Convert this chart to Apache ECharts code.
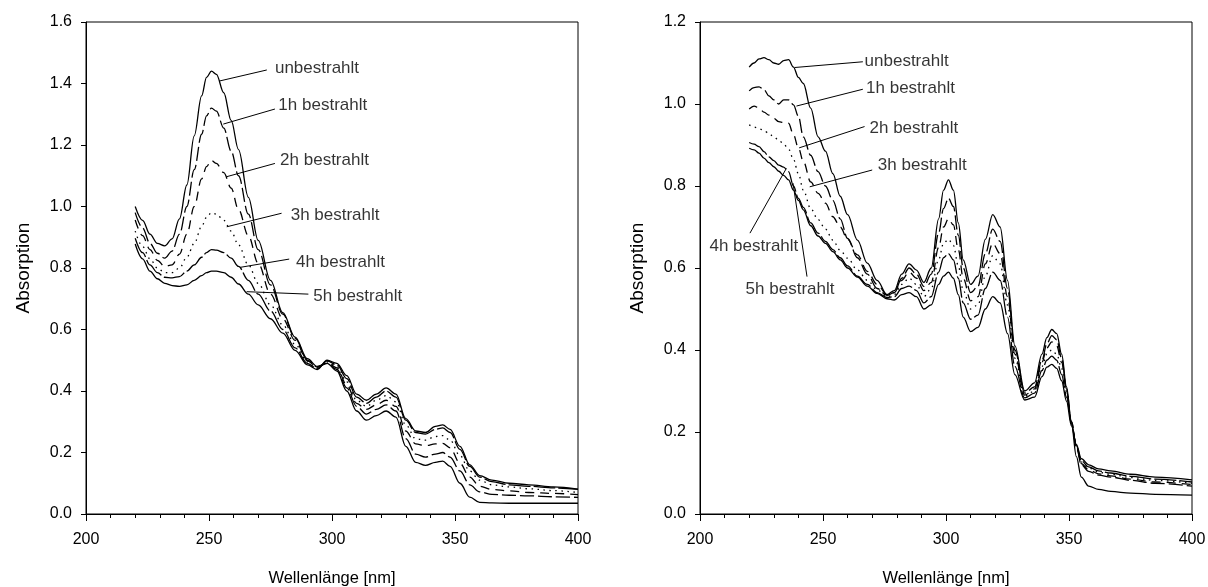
<!DOCTYPE html>
<html>
<head>
<meta charset="utf-8">
<script src="https://cdn.jsdelivr.net/npm/echarts@6/dist/echarts.min.js"></script>
<style>
  html, body { margin: 0; padding: 0; background: #fff; }
  #chart { width: 1208px; height: 587px; }
</style>
</head>
<body>
<div id="chart"></div>
<script>
// ---- series names (shared by both panels) ----
const seriesNames = ['unbestrahlt', '1h bestrahlt', '2h bestrahlt', '3h bestrahlt', '4h bestrahlt', '5h bestrahlt'];

// ---- axis ticks ----
const xTicks = [200, 250, 300, 350, 400];
const leftYTicks = [0.0, 0.2, 0.4, 0.6, 0.8, 1.0, 1.2, 1.4, 1.6];
const rightYTicks = [0.0, 0.2, 0.4, 0.6, 0.8, 1.0, 1.2];

// ---- left panel: wavelengths [nm] and absorption ----
const leftWavelength = [220, 223, 226, 229, 232, 235, 238, 241, 244, 247, 249, 251, 253, 256, 259, 262, 266, 270, 275, 280,
  285, 290, 294, 298, 302, 306, 310, 314, 318, 322, 326, 330, 334, 338, 342, 345, 348, 352, 356, 360, 365, 372, 380, 390, 400];
const leftU  = [1.00, 0.955, 0.91, 0.88, 0.872, 0.895, 0.96, 1.07, 1.23, 1.36, 1.42, 1.44, 1.43, 1.37, 1.28, 1.185, 1.03, 0.89, 0.76, 0.655,
  0.575, 0.505, 0.48, 0.49, 0.465, 0.40, 0.335, 0.305, 0.32, 0.335, 0.315, 0.22, 0.168, 0.158, 0.168, 0.172, 0.155, 0.10, 0.055, 0.038, 0.036, 0.035, 0.035, 0.035, 0.035];
const left1h = [0.98, 0.93, 0.88, 0.848, 0.832, 0.855, 0.91, 1.00, 1.12, 1.235, 1.295, 1.32, 1.31, 1.255, 1.18, 1.10, 0.975, 0.86, 0.745, 0.65,
  0.572, 0.50, 0.478, 0.49, 0.47, 0.41, 0.35, 0.325, 0.34, 0.355, 0.335, 0.245, 0.195, 0.185, 0.195, 0.20, 0.185, 0.14, 0.095, 0.072, 0.064, 0.061, 0.059, 0.056, 0.054];
const left2h = [0.956, 0.905, 0.86, 0.825, 0.805, 0.81, 0.845, 0.91, 1.00, 1.09, 1.13, 1.15, 1.14, 1.11, 1.06, 0.99, 0.905, 0.815, 0.715, 0.635,
  0.565, 0.498, 0.477, 0.492, 0.475, 0.42, 0.36, 0.34, 0.355, 0.37, 0.35, 0.27, 0.228, 0.222, 0.228, 0.23, 0.215, 0.165, 0.12, 0.09, 0.08, 0.075, 0.07, 0.067, 0.063];
const left3h = [0.92, 0.87, 0.83, 0.80, 0.785, 0.785, 0.80, 0.835, 0.88, 0.935, 0.965, 0.98, 0.975, 0.955, 0.92, 0.875, 0.81, 0.75, 0.68, 0.615,
  0.552, 0.495, 0.475, 0.495, 0.48, 0.43, 0.37, 0.35, 0.37, 0.385, 0.365, 0.29, 0.245, 0.24, 0.252, 0.255, 0.24, 0.19, 0.14, 0.11, 0.095, 0.088, 0.082, 0.076, 0.07];
const left4h = [0.897, 0.85, 0.81, 0.785, 0.77, 0.768, 0.772, 0.79, 0.81, 0.835, 0.85, 0.86, 0.858, 0.85, 0.832, 0.805, 0.76, 0.715, 0.66, 0.60,
  0.54, 0.49, 0.472, 0.498, 0.485, 0.44, 0.38, 0.36, 0.38, 0.40, 0.38, 0.305, 0.265, 0.26, 0.275, 0.28, 0.265, 0.21, 0.155, 0.12, 0.105, 0.095, 0.09, 0.085, 0.08];
const left5h = [0.878, 0.83, 0.79, 0.765, 0.75, 0.743, 0.74, 0.745, 0.76, 0.775, 0.785, 0.79, 0.79, 0.785, 0.77, 0.748, 0.715, 0.68, 0.635, 0.588,
  0.532, 0.485, 0.47, 0.50, 0.49, 0.45, 0.39, 0.37, 0.39, 0.41, 0.39, 0.31, 0.27, 0.265, 0.285, 0.29, 0.275, 0.22, 0.16, 0.125, 0.11, 0.10, 0.095, 0.088, 0.081];

// ---- right panel: wavelengths [nm] and absorption ----
const rightWavelength = [220, 222, 224, 226, 228, 230, 232, 234, 236, 238, 240, 242, 245, 248, 251, 254, 257, 260, 264, 268,
  272, 276, 279, 282, 285, 288, 291, 294, 297, 299, 301, 303, 305, 307, 310, 313, 316, 319, 322, 325,
  328, 332, 336, 339, 341, 343, 345, 347, 349, 351, 353, 355, 358, 362, 367, 375, 385, 400];
const rightU  = [1.09, 1.10, 1.11, 1.113, 1.108, 1.10, 1.097, 1.106, 1.108, 1.09, 1.065, 1.05, 0.99, 0.92, 0.885, 0.83, 0.775, 0.73, 0.668, 0.612,
  0.57, 0.535, 0.545, 0.585, 0.61, 0.595, 0.565, 0.60, 0.72, 0.79, 0.815, 0.79, 0.71, 0.62, 0.56, 0.58, 0.67, 0.73, 0.70, 0.57,
  0.41, 0.30, 0.32, 0.39, 0.43, 0.45, 0.44, 0.39, 0.31, 0.22, 0.14, 0.09, 0.068, 0.06, 0.055, 0.051, 0.048, 0.046];
const right1h = [1.032, 1.04, 1.042, 1.035, 1.02, 1.01, 1.00, 1.01, 1.01, 0.998, 0.97, 0.92, 0.875, 0.835, 0.80, 0.765, 0.72, 0.672, 0.625, 0.585,
  0.55, 0.533, 0.54, 0.575, 0.60, 0.585, 0.555, 0.585, 0.685, 0.745, 0.77, 0.75, 0.68, 0.60, 0.54, 0.555, 0.635, 0.695, 0.665, 0.55,
  0.40, 0.295, 0.31, 0.375, 0.415, 0.435, 0.425, 0.38, 0.305, 0.225, 0.165, 0.12, 0.104, 0.095, 0.09, 0.082, 0.075, 0.068];
const right2h = [0.988, 0.995, 0.99, 0.98, 0.973, 0.965, 0.957, 0.955, 0.953, 0.925, 0.893, 0.86, 0.81, 0.782, 0.758, 0.725, 0.70, 0.67, 0.632, 0.592,
  0.56, 0.535, 0.54, 0.57, 0.59, 0.575, 0.545, 0.565, 0.65, 0.70, 0.72, 0.705, 0.645, 0.575, 0.52, 0.53, 0.61, 0.66, 0.635, 0.53,
  0.39, 0.29, 0.305, 0.37, 0.405, 0.42, 0.41, 0.37, 0.30, 0.225, 0.165, 0.123, 0.108, 0.098, 0.093, 0.085, 0.078, 0.072];
const right3h = [0.949, 0.944, 0.94, 0.935, 0.928, 0.92, 0.912, 0.902, 0.89, 0.865, 0.83, 0.79, 0.745, 0.718, 0.695, 0.668, 0.643, 0.624, 0.595, 0.57,
  0.547, 0.53, 0.535, 0.56, 0.575, 0.56, 0.53, 0.55, 0.62, 0.66, 0.67, 0.655, 0.605, 0.545, 0.50, 0.51, 0.58, 0.63, 0.61, 0.51,
  0.38, 0.287, 0.30, 0.36, 0.39, 0.40, 0.39, 0.355, 0.29, 0.22, 0.165, 0.127, 0.112, 0.102, 0.097, 0.089, 0.082, 0.075];
const right4h = [0.906, 0.902, 0.896, 0.884, 0.871, 0.862, 0.851, 0.846, 0.835, 0.80, 0.77, 0.748, 0.71, 0.685, 0.665, 0.645, 0.625, 0.605, 0.58, 0.56,
  0.54, 0.528, 0.53, 0.55, 0.556, 0.545, 0.515, 0.53, 0.59, 0.625, 0.635, 0.62, 0.575, 0.515, 0.475, 0.485, 0.55, 0.59, 0.57, 0.48,
  0.36, 0.283, 0.295, 0.35, 0.375, 0.385, 0.375, 0.34, 0.285, 0.22, 0.167, 0.13, 0.115, 0.105, 0.10, 0.092, 0.085, 0.078];
const right5h = [0.892, 0.888, 0.88, 0.868, 0.857, 0.847, 0.836, 0.826, 0.815, 0.79, 0.765, 0.742, 0.703, 0.678, 0.66, 0.64, 0.62, 0.60, 0.578, 0.556,
  0.538, 0.525, 0.522, 0.535, 0.54, 0.53, 0.50, 0.51, 0.56, 0.58, 0.59, 0.575, 0.535, 0.48, 0.445, 0.455, 0.50, 0.53, 0.515, 0.44,
  0.34, 0.278, 0.285, 0.335, 0.358, 0.365, 0.355, 0.325, 0.275, 0.215, 0.17, 0.135, 0.12, 0.11, 0.105, 0.097, 0.09, 0.083];

// ---- leader lines and label anchors, in data units [nm, absorption] ----
const leftCallouts = [
  { from: [254.2, 1.408], to: [273.5, 1.444], text: [276.8, 1.449], align: 'left' },
  { from: [255.8, 1.268], to: [276.8, 1.317], text: [278.2, 1.330], align: 'left' },
  { from: [257.2, 1.097], to: [276.8, 1.140], text: [278.9, 1.151], align: 'left' },
  { from: [257.2, 0.934], to: [279.5, 0.978], text: [283.2, 0.972], align: 'left' },
  { from: [262.6, 0.802], to: [282.6, 0.829], text: [285.4, 0.820], align: 'left' },
  { from: [265.3, 0.723], to: [290.4, 0.715], text: [292.4, 0.709], align: 'left' }
];
const rightCallouts = [
  { from: [238.5, 1.089], to: [266.2, 1.103], text: [266.9, 1.105], align: 'left' },
  { from: [239.2, 0.995], to: [266.2, 1.036], text: [267.5, 1.039], align: 'left' },
  { from: [240.3, 0.893], to: [266.9, 0.945], text: [268.9, 0.940], align: 'left' },
  { from: [244.6, 0.798], to: [270.0, 0.839], text: [272.3, 0.850], align: 'left' },
  { from: [235.1, 0.843], to: [220.3, 0.685], text: [221.9, 0.652], align: 'center' },
  { from: [237.8, 0.807], to: [243.5, 0.579], text: [236.6, 0.548], align: 'center' }
];

// ---- styling ----
const INK = '#000';
const FONT = '"Liberation Sans", Arial, sans-serif';
const dashStyles = ['solid', [14, 4], [9, 6], [1.5, 4.5], [22, 3], 'solid'];

function pairUp(xs, ys) { return xs.map((x, i) => [x, ys[i]]); }

function axisPair(idx, yMax) {
  const x = {
    gridIndex: idx, type: 'value', min: xTicks[0], max: xTicks[xTicks.length - 1], interval: 50,
    axisLine: { show: true, onZero: false, lineStyle: { color: INK, width: 1 } },
    axisTick: { show: true, inside: false, length: 7, lineStyle: { color: INK, width: 1 } },
    minorTick: { show: true, splitNumber: 5, length: 4, lineStyle: { color: INK, width: 1 } },
    splitLine: { show: false },
    axisLabel: { color: INK, fontSize: 16, fontFamily: FONT, margin: 18 },
    name: 'Wellenlänge [nm]', nameLocation: 'middle', nameGap: 56,
    nameTextStyle: { color: INK, fontSize: 16.5, fontFamily: FONT }
  };
  const y = {
    gridIndex: idx, type: 'value', min: 0, max: yMax, interval: 0.2,
    axisLine: { show: true, onZero: false, lineStyle: { color: INK, width: 1 } },
    axisTick: { show: true, inside: false, length: 5, lineStyle: { color: INK, width: 1 } },
    splitLine: { show: false },
    axisLabel: { color: INK, fontSize: 16, fontFamily: FONT, margin: 14, formatter: v => v.toFixed(1) },
    name: 'Absorption', nameLocation: 'middle', nameGap: 53, nameRotate: 90,
    nameTextStyle: { color: INK, fontSize: 19, fontFamily: FONT }
  };
  return [x, y];
}

function spectraSeries(idx, xs, sets) {
  return sets.map((ys, k) => ({
    name: seriesNames[k], type: 'line', xAxisIndex: idx, yAxisIndex: idx,
    data: pairUp(xs, ys), showSymbol: false, symbol: 'none', smooth: 0.35, smoothMonotone: 'x',
    lineStyle: { color: INK, width: 1.3, type: dashStyles[k] }, silent: true, z: 3
  }));
}

function calloutSeries(idx, callouts) {
  const out = [];
  callouts.forEach((c, k) => {
    out.push({
      type: 'line', xAxisIndex: idx, yAxisIndex: idx, data: [c.from, c.to],
      symbol: 'none', lineStyle: { color: INK, width: 1, type: 'solid' }, silent: true, z: 4
    });
    out.push({
      type: 'scatter', xAxisIndex: idx, yAxisIndex: idx, data: [c.text], symbolSize: 0, silent: true, z: 5,
      label: {
        show: true, position: 'inside', align: c.align, verticalAlign: 'middle',
        formatter: seriesNames[k], color: INK, fontSize: 17, fontFamily: FONT
      }
    });
  });
  return out;
}

const [lx, ly] = axisPair(0, leftYTicks[leftYTicks.length - 1]);
const [rx, ry] = axisPair(1, rightYTicks[rightYTicks.length - 1]);

const gridBase = { top: 22, width: 492, height: 492, show: true, borderColor: INK, borderWidth: 1,
  backgroundColor: 'transparent', containLabel: false, outerBoundsMode: 'none' };

const option = {
  backgroundColor: '#fff',
  animation: false,
  grid: [
    Object.assign({ left: 86 }, gridBase),
    Object.assign({ left: 700 }, gridBase)
  ],
  xAxis: [lx, rx],
  yAxis: [ly, ry],
  series: [
    ...spectraSeries(0, leftWavelength, [leftU, left1h, left2h, left3h, left4h, left5h]),
    ...spectraSeries(1, rightWavelength, [rightU, right1h, right2h, right3h, right4h, right5h]),
    ...calloutSeries(0, leftCallouts),
    ...calloutSeries(1, rightCallouts)
  ]
};

const chart = echarts.init(document.getElementById('chart'), null, { renderer: 'canvas' });
chart.setOption(option);
</script>
</body>
</html>
